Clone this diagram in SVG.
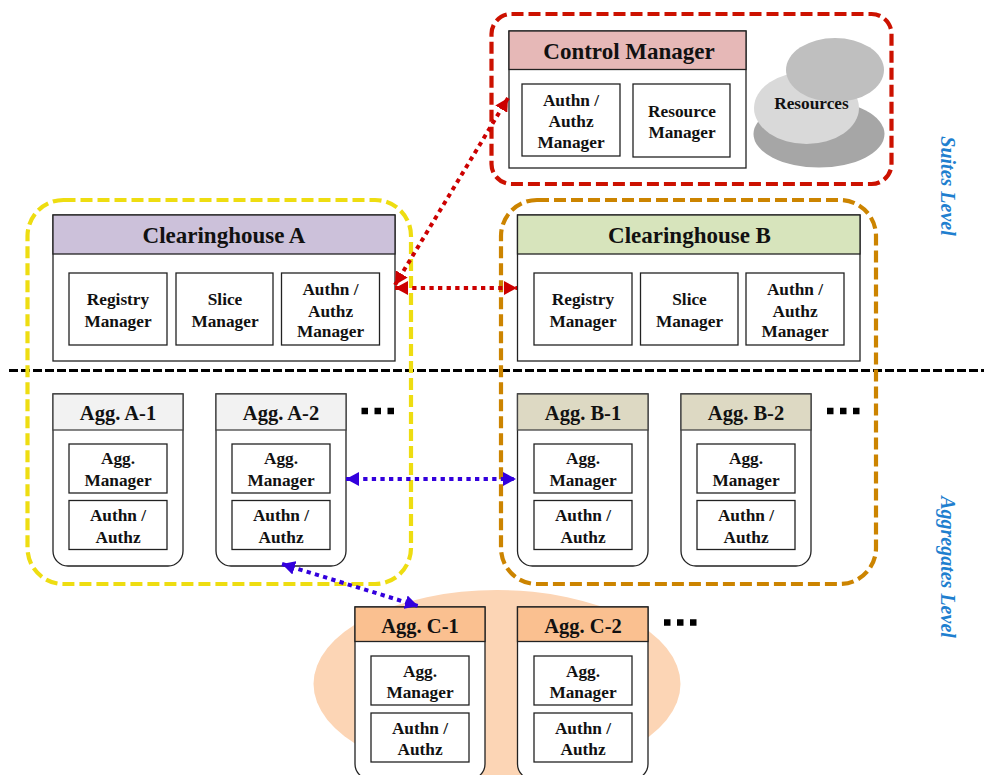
<svg xmlns="http://www.w3.org/2000/svg" width="984" height="775" viewBox="0 0 984 775">
<style>
text{font-family:"Liberation Serif","Times New Roman",serif;font-weight:bold;fill:#111;text-anchor:middle}
.t{font-size:23px}.h{font-size:20.500px}.b{font-size:17.300px}
.s{fill:#fff;stroke:#222;stroke-width:1.300}
.l{font-size:20px;font-style:italic;fill:#1f7fcf}
.g{fill:none;stroke-width:4.200;stroke-dasharray:12 5}
.a{fill:none;stroke-width:4;stroke-dasharray:4.300 4.300}
.d{fill:none;stroke:#000;stroke-width:6.500;stroke-dasharray:6.500 6.500}
</style>
<defs>
<marker id="mr" markerUnits="userSpaceOnUse" markerWidth="16" markerHeight="14" refX="13" refY="7" orient="auto-start-reverse"><path d="M0 0L13 7L0 14Z" fill="#cc0000"/></marker>
<marker id="mb" markerUnits="userSpaceOnUse" markerWidth="16" markerHeight="14" refX="13" refY="7" orient="auto-start-reverse"><path d="M0 0L13 7L0 14Z" fill="#3300dd"/></marker>
</defs>
<rect width="984" height="775" fill="#fff"/>
<ellipse id="region-c" cx="497" cy="684" rx="183.500" ry="94" fill="#fcd5b5"/>

<g id="control-manager">
<rect class="s" x="509" y="31" width="237" height="137"/>
<rect x="509" y="31" width="237" height="38.500" fill="#e6b8b7" stroke="#222" stroke-width="1.300"/>
<text class="t" x="629" y="59">Control Manager</text>
<rect class="s" x="522" y="84" width="98" height="72"/>
<text class="b" x="571" y="106">Authn /</text><text class="b" x="571" y="127">Authz</text><text class="b" x="571" y="148">Manager</text>
<rect class="s" x="633" y="84" width="97" height="73"/>
<text class="b" x="682" y="117">Resource</text><text class="b" x="682" y="138">Manager</text>
</g>
<g id="resources">
<ellipse cx="819" cy="134" rx="65.500" ry="33.500" fill="#a6a6a6"/>
<ellipse cx="806.500" cy="108" rx="52.500" ry="36" fill="#d9d9d9"/>
<ellipse cx="835" cy="70" rx="49" ry="32" fill="#bfbfbf"/>
<text class="b" x="811.500" y="109">Resources</text>
</g>

<g id="clearinghouse-a">
<rect class="s" x="53" y="215" width="342" height="146"/>
<rect x="53" y="215" width="342" height="39" fill="#ccc1da" stroke="#222" stroke-width="1.300"/>
<text class="t" x="224" y="243">Clearinghouse A</text>
<rect class="s" x="69" y="273" width="98" height="72"/><text class="b" x="118" y="305">Registry</text><text class="b" x="118" y="327">Manager</text>
<rect class="s" x="176" y="273" width="97" height="72"/><text class="b" x="225" y="305">Slice</text><text class="b" x="225" y="327">Manager</text>
<rect class="s" x="281.500" y="273" width="98" height="72"/><text class="b" x="330.500" y="295">Authn /</text><text class="b" x="330.500" y="317">Authz</text><text class="b" x="330.500" y="337">Manager</text>
</g>
<g id="clearinghouse-b">
<rect class="s" x="517.500" y="215" width="342.500" height="146"/>
<rect x="517.500" y="215" width="342.500" height="39" fill="#d7e4bc" stroke="#222" stroke-width="1.300"/>
<text class="t" x="689.500" y="243">Clearinghouse B</text>
<rect class="s" x="534" y="273" width="98" height="72"/><text class="b" x="583" y="305">Registry</text><text class="b" x="583" y="327">Manager</text>
<rect class="s" x="640.500" y="273" width="97.500" height="72"/><text class="b" x="689.500" y="305">Slice</text><text class="b" x="689.500" y="327">Manager</text>
<rect class="s" x="746" y="273" width="98" height="72"/><text class="b" x="795" y="295">Authn /</text><text class="b" x="795" y="317">Authz</text><text class="b" x="795" y="337">Manager</text>
</g>

<g id="agg-a-1">
<path class="s" d="M53 394H183V551a15 15 0 0 1-15 15H68a15 15 0 0 1-15-15Z"/>
<rect x="53" y="394" width="130" height="36" fill="#f2f2f2" stroke="#444" stroke-width="1.300"/>
<text class="h" x="118" y="420">Agg. A-1</text>
<rect class="s" x="69" y="444" width="98" height="49"/><text class="b" x="118" y="464">Agg.</text><text class="b" x="118" y="486">Manager</text>
<rect class="s" x="69" y="500.500" width="98" height="49"/><text class="b" x="118" y="521">Authn /</text><text class="b" x="118" y="543">Authz</text>
</g>
<g id="agg-a-2">
<path class="s" d="M216 394H346V551a15 15 0 0 1-15 15H231a15 15 0 0 1-15-15Z"/>
<rect x="216" y="394" width="130" height="36" fill="#f2f2f2" stroke="#444" stroke-width="1.300"/>
<text class="h" x="281" y="420">Agg. A-2</text>
<rect class="s" x="232" y="444" width="98" height="49"/><text class="b" x="281" y="464">Agg.</text><text class="b" x="281" y="486">Manager</text>
<rect class="s" x="232" y="500.500" width="98" height="49"/><text class="b" x="281" y="521">Authn /</text><text class="b" x="281" y="543">Authz</text>
</g>
<g id="agg-b-1">
<path class="s" d="M517.500 394H648V551a15 15 0 0 1-15 15H532.500a15 15 0 0 1-15-15Z"/>
<rect x="517.500" y="394" width="130.500" height="36" fill="#ddd9c3" stroke="#444" stroke-width="1.300"/>
<text class="h" x="583" y="420">Agg. B-1</text>
<rect class="s" x="534" y="444" width="98" height="49"/><text class="b" x="583" y="464">Agg.</text><text class="b" x="583" y="486">Manager</text>
<rect class="s" x="534" y="500.500" width="98" height="49"/><text class="b" x="583" y="521">Authn /</text><text class="b" x="583" y="543">Authz</text>
</g>
<g id="agg-b-2">
<path class="s" d="M681 394H811V551a15 15 0 0 1-15 15H696a15 15 0 0 1-15-15Z"/>
<rect x="681" y="394" width="130" height="36" fill="#ddd9c3" stroke="#444" stroke-width="1.300"/>
<text class="h" x="746" y="420">Agg. B-2</text>
<rect class="s" x="697" y="444" width="98" height="49"/><text class="b" x="746" y="464">Agg.</text><text class="b" x="746" y="486">Manager</text>
<rect class="s" x="697" y="500.500" width="98" height="49"/><text class="b" x="746" y="521">Authn /</text><text class="b" x="746" y="543">Authz</text>
</g>
<g id="agg-c-1">
<path class="s" d="M355 607H485V764a15 15 0 0 1-15 15H370a15 15 0 0 1-15-15Z"/>
<rect x="355" y="607" width="130" height="34.500" fill="#fac090" stroke="#222" stroke-width="1.300"/>
<text class="h" x="420" y="633">Agg. C-1</text>
<rect class="s" x="371" y="656" width="98" height="49"/><text class="b" x="420" y="677">Agg.</text><text class="b" x="420" y="698">Manager</text>
<rect class="s" x="371" y="713" width="98" height="49"/><text class="b" x="420" y="734">Authn /</text><text class="b" x="420" y="755">Authz</text>
</g>
<g id="agg-c-2">
<path class="s" d="M517.500 607H648V764a15 15 0 0 1-15 15H532.500a15 15 0 0 1-15-15Z"/>
<rect x="517.500" y="607" width="130.500" height="34.500" fill="#fac090" stroke="#222" stroke-width="1.300"/>
<text class="h" x="583" y="633">Agg. C-2</text>
<rect class="s" x="534" y="656" width="98" height="49"/><text class="b" x="583" y="677">Agg.</text><text class="b" x="583" y="698">Manager</text>
<rect class="s" x="534" y="713" width="98" height="49"/><text class="b" x="583" y="734">Authn /</text><text class="b" x="583" y="755">Authz</text>
</g>

<g id="ellipses">
<path class="d" d="M361.500 411H395M827 411H860.500M664 622.500H697.500"/>
</g>

<line id="level-divider" x1="9" y1="370.500" x2="984" y2="370.500" stroke="#000" stroke-width="3" stroke-dasharray="9 3"/>

<g id="suites-group"><rect class="g" x="491.500" y="14" width="400" height="170" rx="20" stroke="#cc1100"/></g>
<g id="yellow-group"><rect class="g" x="27.500" y="200" width="383.500" height="384" rx="36" stroke="#eedd11"/></g>
<g id="orange-group"><rect class="g" x="501" y="200" width="375" height="384" rx="36" stroke="#cc8400"/></g>

<g id="connectors">
<line class="a" x1="508" y1="98" x2="395" y2="285" stroke="#cc0000" marker-start="url(#mr)" marker-end="url(#mr)"/>
<line class="a" x1="395" y1="288" x2="517" y2="288" stroke="#cc0000" marker-start="url(#mr)" marker-end="url(#mr)"/>
<line class="a" x1="346" y1="479" x2="516" y2="479" stroke="#3300dd" marker-start="url(#mb)" marker-end="url(#mb)"/>
<line class="a" x1="282" y1="564" x2="418" y2="606" stroke="#3300dd" marker-start="url(#mb)" marker-end="url(#mb)"/>
</g>

<text class="l" transform="translate(941 186) rotate(90)">Suites Level</text>
<text class="l" transform="translate(941 567) rotate(90)">Aggregates Level</text>
</svg>
